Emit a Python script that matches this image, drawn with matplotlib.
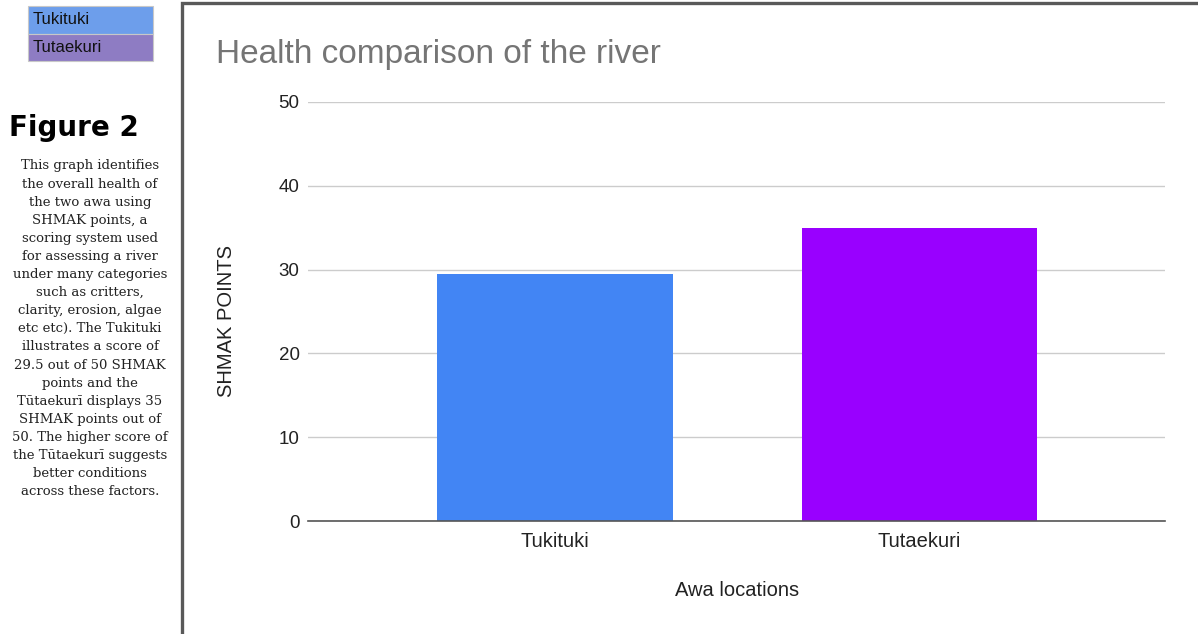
import matplotlib.pyplot as plt
from matplotlib.patches import Rectangle

# ---- data ----
rivers = ['Tukituki', 'Tutaekuri']
shmak_points = [29.5, 35]
bar_colors = ['#4285f4', '#9900ff']
legend_colors = ['#6d9eeb', '#8e7cc3']
y_ticks = [0, 10, 20, 30, 40, 50]

caption_lines = [
    'This graph identifies',
    'the overall health of',
    'the two awa using',
    'SHMAK points, a',
    'scoring system used',
    'for assessing a river',
    'under many categories',
    'such as critters,',
    'clarity, erosion, algae',
    'etc etc). The Tukituki',
    'illustrates a score of',
    '29.5 out of 50 SHMAK',
    'points and the',
    'Tūtaekurī displays 35',
    'SHMAK points out of',
    '50. The higher score of',
    'the Tūtaekurī suggests',
    'better conditions',
    'across these factors.',
]

W, H = 1198, 634
fig = plt.figure(figsize=(W / 100, H / 100), dpi=100)
fig.patch.set_facecolor('white')

def fx(px):
    return px / W

def fy(py):
    return 1 - py / H

# chart frame
fig.patches.append(Rectangle((fx(182), fy(640)), fx(1030), fy(3) - fy(640),
                             transform=fig.transFigure, fill=False,
                             edgecolor='#595959', linewidth=2.4))

# ---- main bar chart ----
ax = fig.add_axes([fx(308), fy(521), fx(1165) - fx(308), fy(102) - fy(521)])
x = list(range(len(rivers)))
ax.bar(x, shmak_points, width=0.647, color=bar_colors, zorder=3)
ax.set_xlim(-0.678, 1.674)
ax.set_ylim(0, 50)
ax.set_yticks(y_ticks)
ax.set_yticklabels([str(v) for v in y_ticks], fontsize=13.5,
                   family='Liberation Sans', color='#222222')
ax.set_xticks(x)
ax.set_xticklabels(rivers, fontsize=14.5, family='Liberation Sans',
                   color='#222222')
ax.tick_params(axis='both', length=0)
ax.tick_params(axis='y', pad=6)
ax.tick_params(axis='x', pad=8)
ax.grid(axis='y', color='#cccccc', linewidth=1, zorder=0)
for side in ['top', 'right', 'left']:
    ax.spines[side].set_visible(False)
ax.spines['bottom'].set_color('#555555')
ax.spines['bottom'].set_linewidth(1.2)
ax.spines['bottom'].set_zorder(4)

fig.text(fx(216), fy(54), 'Health comparison of the river',
         fontsize=24, family='Liberation Sans', color='#757575',
         ha='left', va='center')
fig.text(fx(226), fy(321), 'SHMAK POINTS', rotation=90, fontsize=14.5,
         family='Liberation Sans', color='#222222', ha='center', va='center')
fig.text(fx(737), fy(591), 'Awa locations', fontsize=14.5,
         family='Liberation Sans', color='#222222', ha='center', va='center')

# ---- side legend ----
for i, (name, col) in enumerate(zip(rivers, legend_colors)):
    top = 6 + i * 27.5
    fig.patches.append(Rectangle((fx(28), fy(top + 27.5)), fx(125),
                                 fy(top) - fy(top + 27.5),
                                 transform=fig.transFigure, facecolor=col,
                                 edgecolor='#c8c8c8', linewidth=0.8))
    fig.text(fx(33), fy(top + 14), name, fontsize=12,
             family='Liberation Sans', color='#111111',
             ha='left', va='center')

# ---- caption ----
fig.text(fx(74), fy(128), 'Figure 2', fontsize=20, fontweight='bold',
         family='DejaVu Sans', color='black', ha='center', va='center')
for i, line in enumerate(caption_lines):
    fig.text(fx(90), fy(166 + i * 18.1), line, fontsize=9.5,
             family='DejaVu Serif', color='#222222',
             ha='center', va='center')

fig.savefig('out.png', dpi=100)
